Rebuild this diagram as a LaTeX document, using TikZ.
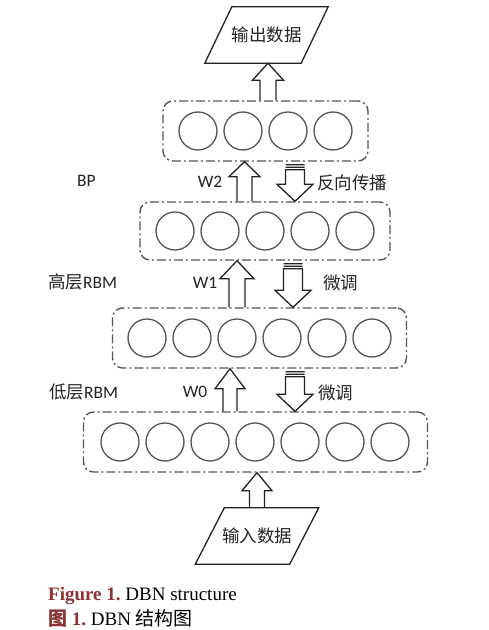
\documentclass[tikz,border=0pt]{standalone}
\usepackage{fontspec}
\setmainfont{Carlito}
\newfontfamily\cjk{Noto Sans CJK SC}
\newfontfamily\capfont{Liberation Serif}
\usetikzlibrary{calc}
\definecolor{capred}{RGB}{140,50,50}
\definecolor{boxgray}{RGB}{85,85,85}
\definecolor{ink}{RGB}{35,35,35}
\newcommand\zh[1]{{\cjk #1}}
% #1 x, #2 bottom anchor, #3 top anchor, #4 shaft half, #5 head half, #6 head length
\newcommand\UpArr[6]{%
  \draw[blockarr] let \p1=(#2), \p2=(#3) in
    (#1pt-#4pt,\y1) -- (#1pt-#4pt,\y2-#6pt) -- (#1pt-#5pt,\y2-#6pt) -- (#1pt,\y2)
    -- (#1pt+#5pt,\y2-#6pt) -- (#1pt+#4pt,\y2-#6pt) -- (#1pt+#4pt,\y1);}
% #1 x, #2 upper anchor, #3 lower anchor (tip)
\newcommand\DownArr[3]{%
  \draw[blockarr] let \p1=(#2), \p2=(#3) in
    (#1pt-9.5pt,\y1-3pt) -- (#1pt+9.5pt,\y1-3pt)
    (#1pt-9.5pt,\y1-5.5pt) -- (#1pt+9.5pt,\y1-5.5pt)
    (#1pt-9.5pt,\y1-8pt) -- (#1pt-9.5pt,\y2+17pt) -- (#1pt-18pt,\y2+17pt) -- (#1pt,\y2)
    -- (#1pt+18pt,\y2+17pt) -- (#1pt+9.5pt,\y2+17pt) -- (#1pt+9.5pt,\y1-8pt) -- cycle;}
\begin{document}
\begin{tikzpicture}[x=1pt,y=1pt,
  layerbox/.style={draw=boxgray, line width=1.4pt, rounded corners=10pt,
    dash pattern=on 9pt off 3pt on 2pt off 3pt, minimum height=60pt, inner sep=0pt},
  unitc/.style={circle, draw=boxgray, line width=1.3pt, minimum size=38pt, inner sep=0pt},
  blockarr/.style={draw=ink, line width=1.3pt, line join=miter},
  lbl/.style={font=\fontsize{17.5}{20}\selectfont, text=ink, inner sep=0pt},
  para/.style={minimum width=96pt, minimum height=56pt, inner sep=0pt,
    font=\fontsize{17.5}{20}\selectfont\cjk, text=ink},
  capt/.style={anchor=base west, inner sep=0pt, font=\capfont\fontsize{19}{22}\selectfont},
  ]
\useasboundingbox (0,0) rectangle (488,630);

% layer boxes
\node[layerbox, minimum width=205pt] (b1) at (265.5,499) {};
\node[layerbox, minimum width=250pt, minimum height=58pt] (b2) at (265,399) {};
\node[layerbox, minimum width=294pt] (b3) at (259.5,292) {};
\node[layerbox, minimum width=344pt] (b4) at (255.5,188) {};

% units
\foreach \i in {1,...,4} \node[unitc] (u1-\i) at ({265.5+(\i-2.5)*45},499) {};
\foreach \i in {1,...,5} \node[unitc] (u2-\i) at ({265+(\i-3)*45},399) {};
\foreach \i in {1,...,6} \node[unitc] (u3-\i) at ({259.5+(\i-3.5)*45},292) {};
\foreach \i in {1,...,7} \node[unitc] (u4-\i) at ({255+(\i-4)*45},188) {};

% data parallelograms
\node[para] (out) at (266.5,595) {输出数据};
\draw[blockarr] ($(out.south west)+(-13.5,0)$) -- ($(out.south east)+(-13.5,0)$)
  -- ($(out.north east)+(13.5,0)$) -- ($(out.north west)+(13.5,0)$) -- cycle;
\node[para, minimum width=94pt] (in) at (257,94) {输入数据};
\draw[blockarr] ($(in.south west)+(-14.5,0)$) -- ($(in.south east)+(-14.5,0)$)
  -- ($(in.north east)+(14.5,0)$) -- ($(in.north west)+(14.5,0)$) -- cycle;

% arrows
\UpArr{268}{b1.north}{out.south}{8}{15.5}{17}
\UpArr{244.5}{b2.north}{b1.south}{7.5}{15.5}{15}
\DownArr{295}{b1.south}{b2.north}
\UpArr{237}{b3.north}{b2.south}{8}{17}{18}
\DownArr{293}{b2.south}{b3.north}
\UpArr{230}{b4.north}{b3.south}{7}{15}{20}
\DownArr{295}{b3.south}{b4.north}
\UpArr{257}{in.north}{b4.south}{7.5}{15}{18}

% labels
\node[lbl] (bp) at (86.5,449.5) {BP};
\node[lbl] (w2) at (210,448) {W2};
\node[lbl, anchor=west] (bpl) at (317,447) {\zh{反向传播}};
\node[lbl, anchor=west] (hi) at (48,348) {\zh{高层}RBM};
\node[lbl] (w1) at (205,347) {W1};
\node[lbl, anchor=west] (ft1) at (323,347) {\zh{微调}};
\node[lbl, anchor=west] (lo) at (49,238) {\zh{低层}RBM};
\node[lbl] (w0) at (195,238) {W0};
\node[lbl, anchor=west] (ft0) at (318,237) {\zh{微调}};

% caption
\node[capt] (cap1) at (48,29) {\textcolor{capred}{\bfseries Figure 1.}\ DBN structure};
\node[capt] (cap2) at (48,5) {\textcolor{capred}{\bfseries\zh{图} 1.}\ DBN \zh{结构图}};
\end{tikzpicture}
\end{document}
